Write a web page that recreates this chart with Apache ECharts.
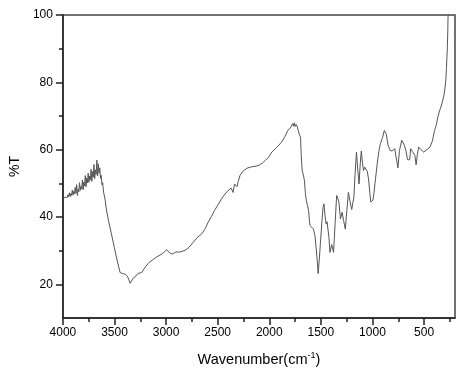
<!DOCTYPE html>
<html>
<head>
<meta charset="utf-8">
<script src="https://cdn.jsdelivr.net/npm/echarts@6/dist/echarts.min.js"></script>
<style>html,body{margin:0;padding:0;background:#fff}#c{width:469px;height:374px}</style>
</head>
<body>
<div id="c"></div>
<script>
const wavenumber = [4000,3993,3986,3979,3972,3965,3958,3951,3944,3937,3930,3923,3916,3909,3902,3895,3888,3881,3874,3867,3860,3853,3846,3839,3832,3825,3818,3811,3804,3797,3790,3783,3776,3769,3762,3755,3748,3741,3734,3727,3720,3713,3706,3699,3692,3685,3678,3671,3664,3657,3650,3643,3636,3629,3622,3615,3606,3598,3590,3580,3558,3530,3502,3475,3446,3420,3394,3372,3348,3320,3292,3274,3237,3200,3165,3120,3088,3032,2995,2964,2940,2927,2905,2887,2865,2847,2810,2778,2740,2701,2655,2620,2593,2560,2531,2500,2469,2440,2407,2370,2351,2337,2314,2300,2284,2250,2207,2170,2129,2098,2068,2035,2006,1975,1930,1882,1850,1820,1795,1774,1765,1758,1752,1740,1727,1718,1711,1697,1690,1681,1670,1659,1650,1641,1630,1619,1610,1604,1590,1572,1557,1545,1535,1526,1515,1505,1490,1479,1470,1460,1449,1440,1433,1422,1412,1395,1377,1362,1347,1335,1325,1310,1294,1280,1263,1248,1233,1220,1201,1180,1168,1155,1142,1130,1118,1108,1097,1087,1075,1062,1050,1038,1025,1016,1006,995,985,970,954,938,923,901,885,877,865,850,830,810,793,784,774,769,753,738,716,707,691,676,660,639,630,614,598,589,577,565,552,530,505,480,444,420,398,380,366,350,336,320,305,296,288,283,278,274,270,268,265,262];
const transmittance = [45.3,45.5,45.4,45.9,45.7,46.2,45.8,46.6,46.0,47.2,46.1,47.0,46.4,48.0,46.5,47.6,46.9,48.8,47.0,49.6,46.4,48.3,47.5,50.2,47.9,49.1,48.3,51.0,48.1,50.4,49.2,52.3,49.0,51.6,50.1,53.0,50.3,52.2,51.0,54.2,50.6,53.5,51.8,55.6,51.4,54.0,52.6,56.9,52.2,55.8,53.0,54.6,51.5,52.4,49.6,50.2,47.4,47.8,45.0,42.4,38.9,35.0,31.0,27.2,23.5,23.2,23.0,22.2,20.3,21.8,22.5,23.2,23.5,25.2,26.5,27.5,28.2,29.2,30.3,29.3,29.0,28.7,29.6,30.0,29.6,29.4,30.2,31.0,32.4,33.8,35.0,36.6,38.4,40.2,41.9,43.5,45.1,46.4,47.6,48.6,47.3,49.8,49.0,50.6,52.3,53.8,54.6,54.9,55.1,55.4,56.0,56.9,57.8,59.3,60.6,62.2,63.8,65.7,66.5,67.7,67.0,68.0,66.9,67.5,66.7,65.5,64.7,63.7,58.0,53.8,52.5,50.8,47.0,44.9,43.5,41.9,38.5,37.4,37.0,36.4,34.4,30.5,27.0,23.2,27.5,32.0,38.5,42.9,43.9,40.5,37.9,38.6,38.9,34.0,29.5,31.8,29.5,38.0,46.4,45.5,44.4,39.4,41.4,39.0,36.4,42.0,47.3,45.0,42.2,45.9,53.0,59.3,54.0,49.8,56.0,59.6,56.0,53.8,54.8,55.3,53.5,51.3,47.0,44.4,43.9,45.0,47.3,51.5,55.8,59.5,61.8,63.7,65.7,66.2,64.5,61.5,59.8,59.6,59.8,60.3,58.3,57.8,54.6,59.8,62.8,63.0,61.3,59.8,57.0,57.0,60.3,59.5,59.3,58.3,55.5,58.5,60.8,60.0,59.3,59.8,60.7,62.5,65.7,67.5,69.7,71.5,72.7,74.5,76.5,78.6,81.0,84.1,87.5,90.6,95.0,98.5,102,106];
const xMajorTicks = [4000,3500,3000,2500,2000,1500,1000,500];
const xMinorTicks = [3750,3250,2750,2250,1750,1250,750,250];
const yMajorTicks = [20,40,60,80,100];
const yMinorTicks = [30,50,70,90];

const FONT = 'Liberation Sans, Arial, sans-serif';
const chart = echarts.init(document.getElementById('c'), null, {renderer: 'canvas'});
const axisLineStyle = {color: '#222', width: 1.5};
chart.setOption({
  animation: false,
  backgroundColor: '#fff',
  grid: {left: 45, right: 14, top: 15, bottom: 56, show: true, borderColor: '#444', borderWidth: 1.5, backgroundColor: 'transparent'},
  xAxis: [{
    type: 'value', min: 200, max: 4000, inverse: true, position: 'bottom',
    name: '{a|Wavenumber(cm}{b|-1}{a|)}', nameLocation: 'middle', nameGap: 33,
    nameTextStyle: {rich: {a: {fontFamily: FONT, fontSize: 14.5, color: '#000'}, b: {fontFamily: FONT, fontSize: 9, color: '#000', verticalAlign: 'top', padding: [0, 0, 8, 0]}}},
    axisLine: {show: true, onZero: false, lineStyle: axisLineStyle},
    axisTick: {show: true, length: 7, customValues: xMajorTicks, lineStyle: {color: '#222', width: 1.5}},
    axisLabel: {show: true, customValues: xMajorTicks, margin: 9, fontFamily: FONT, fontSize: 12, color: '#000', formatter: v => String(v)},
    splitLine: {show: false}
  }, {
    type: 'value', min: 200, max: 4000, inverse: true, position: 'bottom',
    axisLine: {show: false},
    axisTick: {show: true, length: 4, customValues: xMinorTicks, lineStyle: {color: '#222', width: 1.5}},
    axisLabel: {show: false},
    splitLine: {show: false}
  }],
  yAxis: [{
    type: 'value', min: 10, max: 100, interval: 10, position: 'left',
    name: '%T', nameLocation: 'middle', nameGap: 23,
    nameTextStyle: {fontFamily: FONT, fontSize: 14, color: '#000'},
    axisLine: {show: true, onZero: false, lineStyle: axisLineStyle},
    axisTick: {show: true, length: 7, customValues: yMajorTicks, lineStyle: {color: '#222', width: 1.5}},
    axisLabel: {show: true, customValues: yMajorTicks, margin: 10, fontFamily: FONT, fontSize: 12, color: '#000'},
    splitLine: {show: false}
  }, {
    type: 'value', min: 10, max: 100, interval: 10, position: 'left',
    axisLine: {show: false},
    axisTick: {show: true, length: 4, customValues: yMinorTicks, lineStyle: {color: '#222', width: 1.5}},
    axisLabel: {show: false},
    splitLine: {show: false}
  }],
  series: [{
    type: 'line',
    xAxisIndex: 0, yAxisIndex: 0,
    data: wavenumber.map((w, i) => [w, transmittance[i]]),
    showSymbol: false, symbol: 'none',
    clip: true,
    lineStyle: {color: '#555', width: 1},
    z: 1
  }]
});
</script>
</body>
</html>
